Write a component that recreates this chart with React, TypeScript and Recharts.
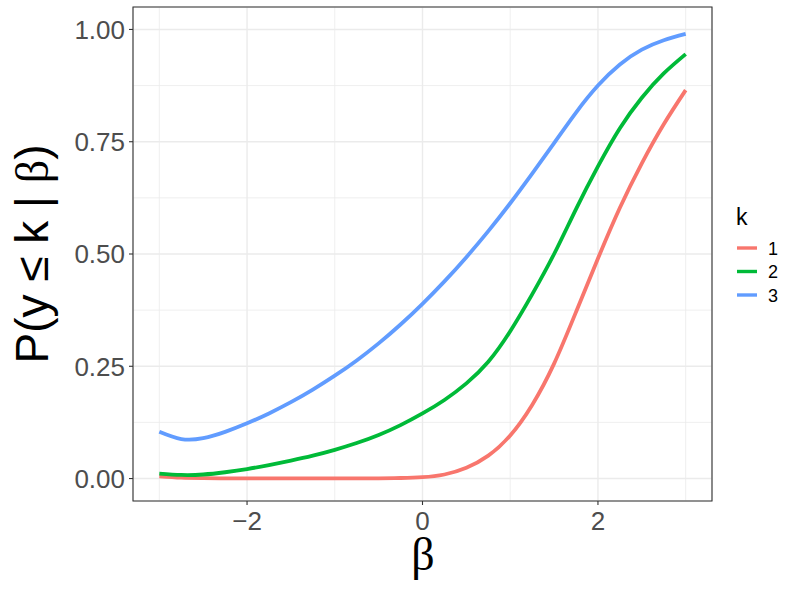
import React from 'react';
import {
  LineChart, Line, XAxis, YAxis, CartesianGrid, ReferenceArea
} from 'recharts';

// beta values along the x axis
const betaGrid = [
  -3, -2.75, -2.5, -2.25, -2, -1.75, -1.5, -1.25, -1, -0.75, -0.5, -0.25,
  0, 0.25, 0.5, 0.75, 1, 1.25, 1.5, 1.75, 2, 2.25, 2.5, 2.75, 3,
];

// P(y <= k | beta) for each k
const probK1 = [
  0.005, 0.002, 0.001, 0.0005, 0.0003, 0.0002, 0.0002, 0.0002, 0.0002, 0.0003, 0.0005, 0.0012,
  0.003, 0.009, 0.024, 0.051, 0.096, 0.164, 0.256, 0.371, 0.49, 0.603, 0.702, 0.789, 0.865,
];
const probK2 = [
  0.011, 0.008, 0.009, 0.014, 0.021, 0.03, 0.04, 0.051, 0.064, 0.079, 0.097, 0.119,
  0.145, 0.175, 0.212, 0.26, 0.328, 0.41, 0.5, 0.6, 0.695, 0.78, 0.848, 0.902, 0.945,
];
const probK3 = [
  0.104, 0.088, 0.09, 0.104, 0.123, 0.145, 0.17, 0.198, 0.229, 0.263, 0.301, 0.343,
  0.389, 0.439, 0.493, 0.551, 0.613, 0.679, 0.747, 0.815, 0.875, 0.922, 0.955, 0.976, 0.99,
];

const kLevels = ['1', '2', '3'];
const kKeys = ['k1', 'k2', 'k3'];
const kColors = ['#F8766D', '#00BA38', '#619CFF'];

const xTicks = [-2, 0, 2];
const xMinor = [-3, -1, 1, 3];
const yTicks = [0, 0.25, 0.5, 0.75, 1];
const yMinor = [0.125, 0.375, 0.625, 0.875];

const data = betaGrid.map((b, i) => ({
  beta: b,
  k1: probK1[i],
  k2: probK2[i],
  k3: probK3[i],
}));

const SANS = '"Liberation Sans", Arial, Helvetica, sans-serif';
const SERIF = '"Liberation Serif", "Times New Roman", serif';

const tickStyle = { fill: '#4D4D4D', fontSize: 26, fontFamily: SANS };

const App = () => {
  return (
    <div style={{ position: 'absolute', left: 0, top: 0, width: 793, height: 595, background: '#fff' }}>
      <LineChart
        width={793}
        height={595}
        data={data}
        margin={{ top: 7, right: 81, bottom: 64, left: 73 }}
      >
        <CartesianGrid
          stroke="#EBEBEB"
          strokeWidth={0.8}
          verticalValues={xMinor}
          horizontalValues={yMinor}
        />
        <CartesianGrid stroke="#EBEBEB" strokeWidth={1.4} />
        <XAxis
          type="number"
          dataKey="beta"
          domain={[-3.3, 3.3]}
          ticks={xTicks}
          allowDataOverflow
          height={30}
          axisLine={false}
          tickSize={4}
          tickMargin={7}
          tickLine={{ stroke: '#333333', strokeWidth: 1.1 }}
          tick={tickStyle}
          tickFormatter={(v: number) => String(v).replace('-', '\u2212')}
        />
        <YAxis
          type="number"
          domain={[-0.05, 1.05]}
          ticks={yTicks}
          allowDataOverflow
          width={60}
          axisLine={false}
          tickSize={4}
          tickMargin={4}
          tickLine={{ stroke: '#333333', strokeWidth: 1.1 }}
          tick={tickStyle}
          tickFormatter={(v: number) => v.toFixed(2)}
        />
        {kKeys.map((key, i) => (
          <Line
            key={key}
            type="natural"
            dataKey={key}
            stroke={kColors[i]}
            strokeWidth={3.8}
            dot={false}
            isAnimationActive={false}
          />
        ))}
        <ReferenceArea
          x1={-3.3}
          x2={3.3}
          y1={-0.05}
          y2={1.05}
          fill="none"
          stroke="#333333"
          strokeWidth={1.1}
          ifOverflow="visible"
        />
      </LineChart>

      {/* axis titles and legend */}
      <svg
        width={793}
        height={595}
        style={{ position: 'absolute', left: 0, top: 0, pointerEvents: 'none' }}
      >
        <text x={423} y={570} textAnchor="middle" fontSize={46} fontFamily={SERIF} fill="#000">
          β
        </text>
        <text
          x={48}
          y={254}
          transform="rotate(-90, 48, 254)"
          textAnchor="middle"
          fontSize={46}
          fontFamily={SANS}
          fill="#000"
        >
          P(y ≤ k | <tspan fontFamily={SERIF}>β</tspan>)
        </text>

        <text x={736} y={225} fontSize={23} fontFamily={SANS} fill="#000">k</text>
        {kLevels.map((lab, i) => {
          const y = 248 + i * 23.5;
          return (
            <g key={lab}>
              <line x1={737} x2={757} y1={y} y2={y} stroke={kColors[i]} strokeWidth={3.4} />
              <text x={768} y={y + 6.5} fontSize={18} fontFamily={SANS} fill="#000">{lab}</text>
            </g>
          );
        })}
      </svg>
    </div>
  );
};

export default App;
